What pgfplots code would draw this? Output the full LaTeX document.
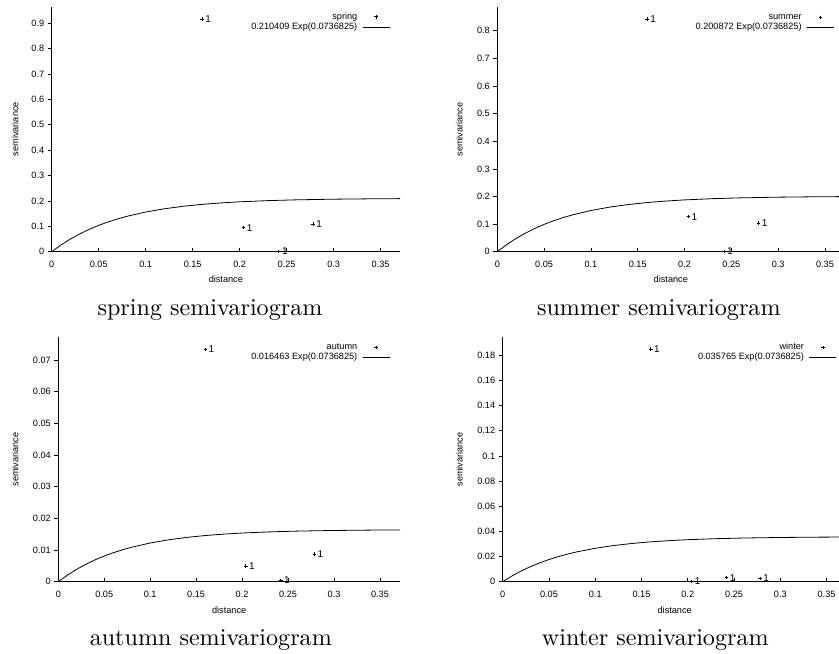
\documentclass[border=0pt]{standalone}
\usepackage{pgfplots}
\pgfplotsset{compat=1.18}
\usepackage{fontspec}
\setsansfont{Liberation Sans}
\newfontfamily\capfont[Extension=.otf]{lmroman10-regular}
\newcommand{\smallsf}{\sffamily\fontsize{9.2}{10}\selectfont}
\begin{document}
\begin{tikzpicture}
\pgfplotsset{
  semiv/.style={
    scale only axis, anchor=south west,
    axis x line*=bottom, axis y line*=left,
    axis line style={line width=1.4bp, black},
    xmin=0, ymin=0, scaled ticks=false,
    xtick={0,0.05,0.1,0.15,0.2,0.25,0.3,0.35},
    xticklabels={0,0.05,0.1,0.15,0.2,0.25,0.3,0.35},
    tick style={black, line width=0.6bp},
    xtick align=inside, ytick align=outside, major tick length=4bp,
    /pgf/number format/assume math mode=true,
    ticklabel style={font=\smallsf},
    xticklabel style={yshift=-6bp},
    label style={font=\smallsf},
    xlabel={distance}, ylabel={semivariance},
    legend style={draw=none, fill=none, at={(1,1)}, anchor=north east,
      xshift=-9.7bp, yshift=-5bp, inner sep=0pt, font=\smallsf,
      row sep=0.5bp, column sep=4bp,
      nodes={inner sep=1bp, text height=6.2bp, text depth=1.6bp}},
    legend plot pos=right, legend cell align=right,
  },
  pts/.style={only marks, mark=+, mark size=1.8bp, black,
    mark options={line width=0.7bp},
    nodes near coords={1}, nodes near coords align=horizontal,
    every node near coord/.append style={font=\sffamily\fontsize{10}{11}\selectfont, inner sep=1bp, xshift=2bp},
    legend image code/.code={\draw[black, line width=0.7bp, mark=+, mark size=1.8bp, only marks] plot coordinates {(13.5bp,0bp)};}},
  crv/.style={black, line width=0.8bp, no marks,
    legend image code/.code={\draw[black, line width=0.8bp] (0bp,0bp) -- (27bp,0bp);}},
}
\path[use as bounding box] (0bp,0bp) rectangle (839bp,654bp);
% spring
\begin{axis}[semiv, at={(51.7bp,402.3bp)}, width=348.3bp, height=245bp,
  xmax=0.3706, ymax=0.965,
  ytick={0,0.1,0.2,0.3,0.4,0.5,0.6,0.7,0.8,0.9},
  yticklabels={0,0.1,0.2,0.3,0.4,0.5,0.6,0.7,0.8,0.9},
  xlabel style={at={(axis description cs:0.5,-0.114)}, anchor=center},
  ylabel style={at={(axis description cs:-0.1054,0.5)}, anchor=center}]
\addplot[pts] coordinates {(0.160,0.917) (0.204,0.0946) (0.2415,0.0015) (0.278,0.109)};
\addlegendentry{spring}
\addplot[crv] coordinates {(0,0) (0.01,0.026703) (0.02,0.050016) (0.03,0.070371) (0.04,0.088142) (0.05,0.103660) (0.06,0.117208) (0.07,0.129038) (0.08,0.139364) (0.10,0.156254) (0.12,0.169127) (0.14,0.178940) (0.16,0.186422) (0.18,0.192125) (0.20,0.196472) (0.23,0.201134) (0.26,0.204236) (0.30,0.206822) (0.34,0.208324) (0.38,0.209197)};
\addlegendentry{0.210409 Exp(0.0736825)}
\end{axis}
% summer
\begin{axis}[semiv, at={(497.3bp,402.3bp)}, width=347bp, height=244.4bp,
  xmax=0.3706, ymax=0.885,
  ytick={0,0.1,0.2,0.3,0.4,0.5,0.6,0.7,0.8},
  yticklabels={0,0.1,0.2,0.3,0.4,0.5,0.6,0.7,0.8},
  xlabel style={at={(axis description cs:0.5,-0.1146)}, anchor=center},
  ylabel style={at={(axis description cs:-0.1095,0.5)}, anchor=center}]
\addplot[pts] coordinates {(0.160,0.842) (0.204,0.127) (0.242,0.001) (0.279,0.103)};
\addlegendentry{summer}
\addplot[crv] coordinates {(0,0) (0.01,0.025493) (0.02,0.047749) (0.03,0.067182) (0.04,0.084147) (0.05,0.098962) (0.06,0.111896) (0.07,0.123189) (0.08,0.133048) (0.10,0.149172) (0.12,0.161461) (0.14,0.170830) (0.16,0.177973) (0.18,0.183416) (0.20,0.187566) (0.23,0.192018) (0.26,0.194978) (0.30,0.197447) (0.34,0.198881) (0.38,0.199715)};
\addlegendentry{0.200872 Exp(0.0736825)}
\end{axis}
% autumn
\begin{axis}[semiv, at={(58.3bp,72.3bp)}, width=341.7bp, height=244.4bp,
  xmax=0.3718, ymax=0.0772,
  ytick={0,0.01,0.02,0.03,0.04,0.05,0.06,0.07},
  yticklabels={0,0.01,0.02,0.03,0.04,0.05,0.06,0.07},
  xlabel style={at={(axis description cs:0.5,-0.1158)}, anchor=center},
  ylabel style={at={(axis description cs:-0.1267,0.5)}, anchor=center}]
\addplot[pts] coordinates {(0.160,0.0734) (0.204,0.00496) (0.242,0.0004) (0.2786,0.00875)};
\addlegendentry{autumn}
\addplot[crv] coordinates {(0,0) (0.01,0.002089) (0.02,0.003913) (0.03,0.005506) (0.04,0.006897) (0.05,0.008111) (0.06,0.009171) (0.07,0.010096) (0.08,0.010904) (0.10,0.012226) (0.12,0.013233) (0.14,0.014001) (0.16,0.014586) (0.18,0.015032) (0.20,0.015373) (0.23,0.015737) (0.26,0.015980) (0.30,0.016182) (0.34,0.016300) (0.38,0.016368)};
\addlegendentry{0.016463 Exp(0.0736825)}
\end{axis}
% winter
\begin{axis}[semiv, at={(502.7bp,72.3bp)}, width=344bp, height=244.4bp,
  xmax=0.3718, ymax=0.1943,
  ytick={0,0.02,0.04,0.06,0.08,0.1,0.12,0.14,0.16,0.18},
  yticklabels={0,0.02,0.04,0.06,0.08,0.1,0.12,0.14,0.16,0.18},
  xlabel style={at={(axis description cs:0.5,-0.1158)}, anchor=center},
  ylabel style={at={(axis description cs:-0.126,0.5)}, anchor=center}]
\addplot[pts] coordinates {(0.160,0.1848) (0.204,0.0003) (0.242,0.0032) (0.278,0.0027)};
\addlegendentry{winter}
\addplot[crv] coordinates {(0,0) (0.01,0.004539) (0.02,0.008502) (0.03,0.011962) (0.04,0.014982) (0.05,0.017620) (0.06,0.019923) (0.07,0.021934) (0.08,0.023689) (0.10,0.026560) (0.12,0.028748) (0.14,0.030416) (0.16,0.031688) (0.18,0.032657) (0.20,0.033396) (0.23,0.034189) (0.26,0.034716) (0.30,0.035155) (0.34,0.035411) (0.38,0.035559)};
\addlegendentry{0.035765 Exp(0.0736825)}
\end{axis}
\node[anchor=base, font=\capfont\fontsize{24.2}{29}\selectfont] at (210bp,338bp) {spring semivariogram};
\node[anchor=base, font=\capfont\fontsize{24.2}{29}\selectfont] at (658.8bp,338bp) {summer semivariogram};
\node[anchor=base, font=\capfont\fontsize{24.2}{29}\selectfont] at (210.8bp,9bp) {autumn semivariogram};
\node[anchor=base, font=\capfont\fontsize{24.2}{29}\selectfont] at (655.3bp,9bp) {winter semivariogram};
\end{tikzpicture}
\end{document}
